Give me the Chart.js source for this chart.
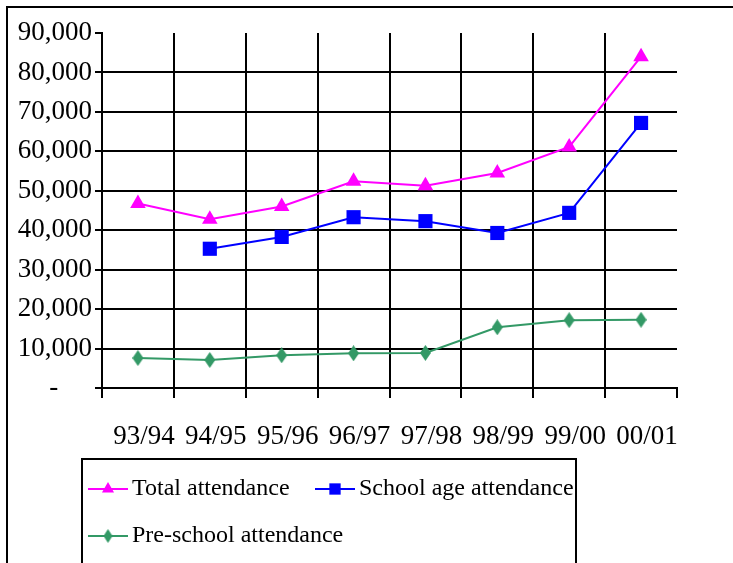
<!DOCTYPE html>
<html lang="en">
<head>
<meta charset="UTF-8" />
<title>Attendance</title>
<script src="https://cdn.jsdelivr.net/npm/chart.js"></script>
<style>
  html, body { margin: 0; padding: 0; background: #fff; }
  canvas { display: block; }
</style>
</head>
<body>
<canvas id="attendanceChart" width="733" height="563"></canvas>
<script>
const seasons = ["93/94", "94/95", "95/96", "96/97", "97/98", "98/99", "99/00", "00/01"];
const totalAttendance = [46800, 42800, 46000, 52400, 51300, 54500, 61100, 84000];
const schoolAgeAttendance = [null, 35300, 38300, 43300, 42300, 39300, 44400, 67200];
const preSchoolAttendance = [7600, 7100, 8300, 8800, 8900, 15400, 17200, 17300];

const serif = "'Liberation Serif', 'Times New Roman', serif";
Chart.defaults.font.family = serif;
Chart.defaults.font.size = 27;
Chart.defaults.color = "#000";

// tall diamond marker, Chart.js only has a square one
function diamond(w, h, color) {
    const c = document.createElement("canvas");
    c.width = w;
    c.height = h;
    const g = c.getContext("2d");
    g.fillStyle = color;
    g.beginPath();
    g.moveTo(w / 2, 0);
    g.lineTo(w, h / 2);
    g.lineTo(w / 2, h);
    g.lineTo(0, h / 2);
    g.closePath();
    g.fill();
    return c;
}

const green = "#339966";

// outer frame plus the boxed legend under the plot
const frameAndLegend = {
    id: "frameAndLegend",
    afterDraw(chart) {
        const ctx = chart.ctx;
        ctx.save();
        ctx.strokeStyle = "#000";
        ctx.lineWidth = 2;
        ctx.beginPath();
        ctx.moveTo(7, 570);
        ctx.lineTo(7, 7);
        ctx.lineTo(740, 7);
        ctx.stroke();
        ctx.strokeRect(82, 459, 494, 130);

        const spots = [
            { x: 88, y: 489 },
            { x: 315, y: 489 },
            { x: 88, y: 536 },
        ];
        const markers = [
            { pointStyle: "triangle", radius: 7 },
            { pointStyle: "rect", radius: 8 },
            { pointStyle: diamond(9, 14, green), radius: 6 },
        ];
        chart.data.datasets.forEach((ds, i) => {
            const s = spots[i];
            ctx.strokeStyle = ds.borderColor;
            ctx.fillStyle = ds.pointBackgroundColor;
            ctx.lineWidth = 2;
            ctx.beginPath();
            ctx.moveTo(s.x, s.y);
            ctx.lineTo(s.x + 40, s.y);
            ctx.stroke();
            Chart.helpers.drawPoint(ctx, {
                pointStyle: markers[i].pointStyle,
                radius: markers[i].radius,
                rotation: 0,
                borderWidth: 0,
            }, s.x + 20, s.y);
            ctx.fillStyle = "#000";
            ctx.font = "24px " + serif;
            ctx.textAlign = "left";
            ctx.textBaseline = "middle";
            ctx.fillText(ds.label, s.x + 44, s.y);
        });
        ctx.restore();
    },
};

new Chart(document.getElementById("attendanceChart"), {
    type: "line",
    data: {
        labels: seasons,
        datasets: [
            {
                label: "Total attendance",
                data: totalAttendance,
                borderColor: "#ff00ff",
                pointBackgroundColor: "#ff00ff",
                pointBorderWidth: 0,
                pointStyle: "triangle",
                pointRadius: 9,
                borderWidth: 2,
            },
            {
                label: "School age attendance",
                data: schoolAgeAttendance,
                borderColor: "#0000ff",
                pointBackgroundColor: "#0000ff",
                pointBorderWidth: 0,
                pointStyle: "rect",
                pointRadius: 10,
                borderWidth: 2,
            },
            {
                label: "Pre-school attendance",
                data: preSchoolAttendance,
                borderColor: green,
                pointBackgroundColor: green,
                pointBorderWidth: 0,
                pointStyle: diamond(11, 16, green),
                pointRadius: 8,
                borderWidth: 2,
            },
        ],
    },
    options: {
        responsive: false,
        animation: false,
        devicePixelRatio: 1,
        layout: { padding: { top: 33, right: 56, left: 0, bottom: 0 } },
        plugins: {
            legend: { display: false },
            tooltip: { enabled: false },
        },
        scales: {
            x: {
                offset: true,
                afterFit: (scale) => { scale.height = 175; },
                grid: {
                    offset: true,
                    lineWidth: 2,
                    tickLength: 10,
                    tickColor: "#000",
                    color: (c) => (c.tick ? "#000" : "rgba(0,0,0,0)"),
                },
                border: { color: "#000", width: 2 },
                ticks: { padding: 23, labelOffset: 6, maxRotation: 0, autoSkip: false },
            },
            y: {
                min: 0,
                max: 90000,
                afterFit: (scale) => { scale.width = 102; },
                grid: {
                    lineWidth: 2,
                    tickLength: 7,
                    tickColor: "#000",
                    color: (c) => (c.tick && c.tick.value === 90000 ? "rgba(0,0,0,0)" : "#000"),
                },
                border: { color: "#000", width: 2 },
                ticks: {
                    stepSize: 10000,
                    padding: 3,
                    callback: (v) => (v === 0 ? "-     " : v.toLocaleString("en-US")),
                },
            },
        },
    },
    plugins: [frameAndLegend],
});
</script>
</body>
</html>
